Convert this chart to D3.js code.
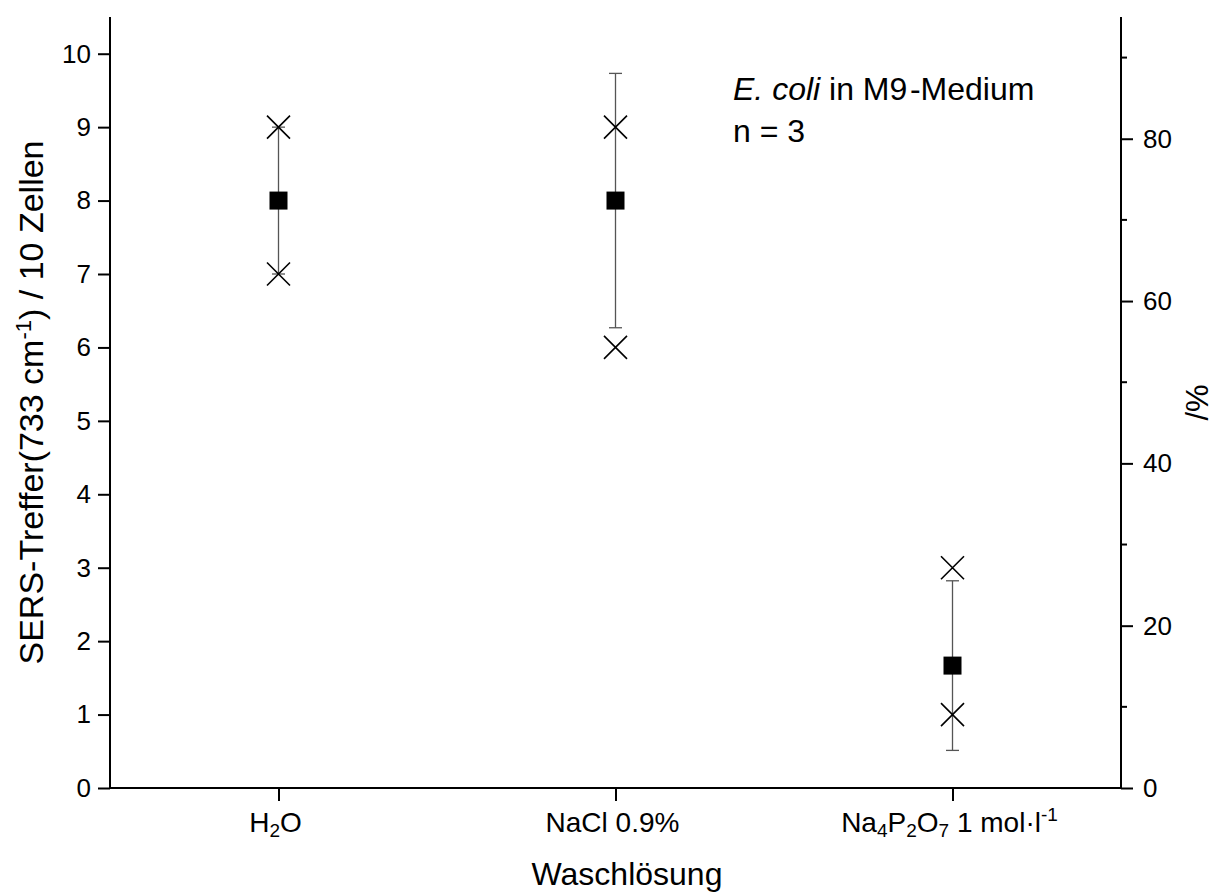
<!DOCTYPE html>
<html>
<head>
<meta charset="utf-8">
<script src="https://cdn.jsdelivr.net/npm/d3@7"></script>
<style>
  html, body { margin: 0; padding: 0; background: #fff; }
  svg { display: block; }
  text { font-family: "Liberation Sans", Arial, Helvetica, sans-serif; fill: #000; }
</style>
</head>
<body>
<svg id="chart" width="1219" height="893"></svg>
<script>
// Washing solutions (x categories)
const categories = ["H2O", "NaCl 0.9%", "Na4P2O7 1 mol/l"];
// Mean SERS hits per 10 cells, standard deviation, and max / min of the replicates
const meanHits = [8, 8, 1.667];
const sdHits = [1, 1.732, 1.155];
const maxHits = [9, 9, 3];
const minHits = [7, 6, 1];
// Axis ticks
const leftTicks = [0, 1, 2, 3, 4, 5, 6, 7, 8, 9, 10];
const rightTicks = [0, 20, 40, 60, 80];
const rightMinorTicks = [10, 30, 50, 70, 90];

// Rich-text pieces for the category labels: [text, kind] where kind is "", "sub" or "sup"
const categoryLabels = [
  [["H", ""], ["2", "sub"], ["O", ""]],
  [["NaCl 0.9%", ""]],
  [["Na", ""], ["4", "sub"], ["P", ""], ["2", "sub"], ["O", ""], ["7", "sub"], [" 1 mol\u00B7l", ""], ["-1", "sup"]]
];

const svg = d3.select("#chart");
const plotL = 110, plotR = 1121, plotT = 17, plotB = 788;

const x = d3.scaleLinear().domain([0.5, 3.5]).range([plotL, plotR]);
const y = d3.scaleLinear().domain([0, 10.5]).range([plotB, plotT]);
const y2 = d3.scaleLinear().domain([0, 95]).range([plotB, plotT]);

const axisW = 2;

// Left axis
const gl = svg.append("g").attr("transform", `translate(${plotL},0)`)
  .call(d3.axisLeft(y).tickValues(leftTicks).tickSize(12).tickPadding(7).tickFormat(d3.format("d")));
// Right axis (percent)
const gr = svg.append("g").attr("transform", `translate(${plotR},0)`)
  .call(d3.axisRight(y2).tickValues(rightTicks).tickSize(12).tickPadding(10).tickFormat(d3.format("d")));
gr.selectAll(".minor").data(rightMinorTicks).enter().append("line")
  .attr("class", "minor")
  .attr("x1", 0).attr("x2", 6)
  .attr("y1", d => y2(d)).attr("y2", d => y2(d));
// Bottom axis
const gb = svg.append("g").attr("transform", `translate(0,${plotB})`)
  .call(d3.axisBottom(x).tickValues([1, 2, 3]).tickSize(13).tickFormat(""));

[gl, gr, gb].forEach(g => {
  g.select(".domain").attr("stroke", "#000").attr("stroke-width", axisW);
  g.selectAll("line").attr("stroke", "#000").attr("stroke-width", axisW);
  g.selectAll("text").attr("font-size", 26).attr("fill", "#000")
    .style("font-family", '"Liberation Sans", Arial, sans-serif');
});
// Axis lines end cleanly without outer tick stubs
gl.select(".domain").attr("d", `M0,${plotB}V${plotT}`);
gr.select(".domain").attr("d", `M0,${plotB}V${plotT}`);
gb.select(".domain").attr("d", `M${plotL},0H${plotR}`);

// Category labels with sub/superscripts
categoryLabels.forEach((parts, i) => {
  const t = svg.append("text")
    .attr("x", x(i + 1) - 3).attr("y", 832)
    .attr("text-anchor", "middle")
    .attr("font-size", 28);
  parts.forEach(([s, kind]) => {
    const ts = t.append("tspan").text(s);
    if (kind === "sub") ts.attr("font-size", 19).attr("baseline-shift", "-25%");
    if (kind === "sup") ts.attr("font-size", 19).attr("baseline-shift", "60%");
  });
});

// Axis titles
svg.append("text")
  .attr("x", 627).attr("y", 885)
  .attr("text-anchor", "middle").attr("font-size", 32)
  .text("Waschlösung");

const yt = svg.append("text")
  .attr("transform", `translate(43,${(plotT + plotB) / 2}) rotate(-90)`)
  .attr("text-anchor", "middle").attr("font-size", 34);
yt.append("tspan").text("SERS-Treffer(733 cm");
yt.append("tspan").text("-1").attr("font-size", 22).attr("baseline-shift", "55%");
yt.append("tspan").text(") / 10 Zellen");

svg.append("text")
  .attr("transform", `translate(1208,${(plotT + plotB) / 2}) rotate(-90)`)
  .attr("text-anchor", "middle").attr("font-size", 31)
  .text("/%");

// Annotation
const ann = svg.append("text").attr("x", 733).attr("y", 100).attr("font-size", 32);
ann.append("tspan").text("E.").attr("font-style", "italic");
ann.append("tspan").text(" ");
ann.append("tspan").text("coli").attr("font-style", "italic");
ann.append("tspan").text(" in M9\u200A-Medium");
svg.append("text").attr("x", 733).attr("y", 142).attr("font-size", 32).text("n = 3");

// Data marks
const pts = categories.map((c, i) => ({
  c, xv: i + 1, mean: meanHits[i], sd: sdHits[i], max: maxHits[i], min: minHits[i]
}));
const g = svg.append("g");
const capW = 13;
const errColor = "#555";

// Error bars (mean ± SD)
g.selectAll(".err").data(pts).enter().append("line")
  .attr("x1", d => x(d.xv)).attr("x2", d => x(d.xv))
  .attr("y1", d => y(d.mean - d.sd)).attr("y2", d => y(d.mean + d.sd))
  .attr("stroke", errColor).attr("stroke-width", 1.3);
["lo", "hi"].forEach(k => {
  g.selectAll(".cap-" + k).data(pts).enter().append("line")
    .attr("x1", d => x(d.xv) - capW / 2).attr("x2", d => x(d.xv) + capW / 2)
    .attr("y1", d => y(k === "lo" ? d.mean - d.sd : d.mean + d.sd))
    .attr("y2", d => y(k === "lo" ? d.mean - d.sd : d.mean + d.sd))
    .attr("stroke", errColor).attr("stroke-width", 1.3);
});

// Min / max crosses
const crossHalf = 11.5;
function cross(cx, cy) {
  return `M${cx - crossHalf},${cy - crossHalf}L${cx + crossHalf},${cy + crossHalf}M${cx - crossHalf},${cy + crossHalf}L${cx + crossHalf},${cy - crossHalf}`;
}
const extremes = [];
pts.forEach(d => { extremes.push({ xv: d.xv, v: d.max }); extremes.push({ xv: d.xv, v: d.min }); });
g.selectAll(".x").data(extremes).enter().append("path")
  .attr("d", d => cross(x(d.xv), y(d.v)))
  .attr("stroke", "#000").attr("stroke-width", 1.6).attr("fill", "none");

// Mean squares
const sq = 18;
g.selectAll(".mean").data(pts).enter().append("rect")
  .attr("x", d => x(d.xv) - sq / 2).attr("y", d => y(d.mean) - sq / 2)
  .attr("width", sq).attr("height", sq)
  .attr("fill", "#000");
</script>
</body>
</html>
